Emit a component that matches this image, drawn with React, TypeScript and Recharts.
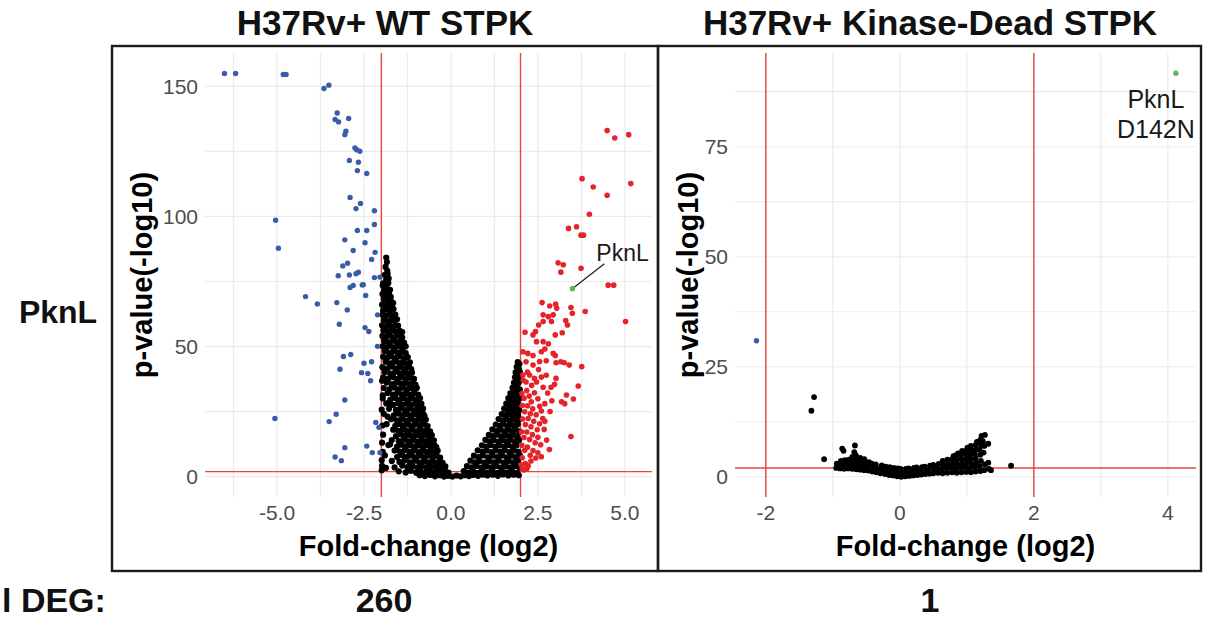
import React from 'react';
import { ScatterChart, Scatter, XAxis, YAxis, CartesianGrid, ReferenceLine, Label } from 'recharts';

const FONT = '"Liberation Sans", Arial, Helvetica, sans-serif';

// ---- H37Rv+ WT STPK ----
const wtXTicks = [-5, -2.5, 0, 2.5, 5];
const wtYTicks = [0, 50, 100, 150];
const wtXGrid = [-6.25, -5, -3.75, -2.5, -1.25, 0, 1.25, 2.5, 3.75, 5];
const wtYGrid = [0, 25, 50, 75, 100, 125, 150];

const wtBlue = [
  [-6.51, 154.9], [-6.19, 154.9], [-4.82, 154.5], [-4.74, 154.5], [-3.65, 149.1], [-3.51, 150.4],
  [-3.27, 139.7], [-3.33, 137.2], [-3.23, 136.3], [-2.94, 137.6], [-3.02, 132.7], [-3.05, 131.4],
  [-2.76, 126.3], [-2.71, 125.6], [-2.62, 125], [-2.92, 121.5], [-2.66, 120.8], [-2.69, 117.6],
  [-2.42, 116.5], [-2.9, 107.3], [-2.6, 105], [-2.73, 103], [-2.2, 102.2], [-5.04, 98.5],
  [-2.2, 96.9], [-2.69, 94.6], [-2.42, 94.6], [-3.05, 91], [-2.47, 89.9], [-4.96, 87.8],
  [-2.81, 86.9], [-2.18, 86.2], [-2.28, 83.5], [-3.11, 81], [-2.97, 82], [-3.24, 77.2],
  [-2.92, 77.5], [-2.73, 78], [-2.66, 78.6], [-2.55, 73.7], [-2.2, 76.5], [-2.04, 76.7],
  [-2.9, 72.7], [-2.81, 73.5], [-2.52, 73.8], [-4.18, 69.2], [-3.84, 66.4], [-3.28, 66.9],
  [-2.45, 69.6], [-2.98, 64.1], [-2.11, 62.2], [-3.21, 58.6], [-2.47, 57.3], [-2.36, 55.8],
  [-2.11, 50.1], [-3.09, 46.2], [-2.88, 47], [-3.19, 41.3], [-2.5, 43.6], [-2.28, 44.2],
  [-2.57, 40], [-2.39, 39.7], [-2.31, 36.9], [-3.05, 29.5], [-5.06, 22.4], [-3.3, 24],
  [-3.5, 21.2], [-2.16, 20.9], [-2.07, 19], [-2.42, 11.8], [-3.05, 11.2], [-2.26, 9.3],
  [-2.04, 9.3], [-3.33, 7.6], [-3.15, 6.2],
];

const wtRed = [
  [4.49, 133], [4.71, 130.1], [5.11, 131.4], [3.77, 114.5], [4.09, 111.3], [5.17, 112.6],
  [4.49, 108.1], [3.98, 100.8], [3.38, 95.4], [3.61, 96], [3.74, 92.8], [3.81, 92.8],
  [3.08, 82.2], [3.23, 81.4], [3.16, 78.6], [3.74, 80.1], [4.52, 73.6], [4.68, 73.6],
  [5.02, 59.6], [3.86, 63.5], [3.45, 65], [3.49, 62.8], [2.62, 66.9], [2.84, 65.6],
  [3.01, 66.3], [3.04, 64.7], [2.65, 62.2], [2.8, 61.5], [2.94, 62.2], [2.13, 55.5],
  [2.36, 54.5], [2.43, 55.8], [2.52, 58.3], [2.65, 59.6], [2.89, 59.6], [3.0, 54.5],
  [3.2, 55.3], [3.35, 58.3], [3.3, 60], [2.65, 51.9], [2.8, 51.1], [2.46, 51.9],
  [2.07, 48], [2.21, 47.4], [2.36, 46.6], [2.6, 48], [2.94, 47.4], [3.0, 46.6],
  [2.16, 44.2], [2.36, 42.9], [2.74, 44.6], [3.02, 43.8], [3.16, 44.2], [3.26, 43.8],
  [3.4, 42.9], [3.76, 42.3], [2.07, 39.1], [2.26, 39.1], [2.4, 37.8], [2.16, 36.4],
  [2.46, 36.4], [2.65, 34.4], [2.98, 35.5], [3.02, 37.8], [2.88, 34.4], [3.66, 34.9],
  [3.32, 31.4], [3.52, 29.9], [3.18, 28.8], [3.27, 28.1], [2.64, 22.4], [3.45, 15.5],
  [2.83, 10.5], [2.6, 7.7], [2.05, 3.2], [2.74, 39],
  [2.04, 32], [2.1, 30.2], [2.18, 33.1], [2.25, 31], [2.31, 28.8], [2.4, 32.3], [2.5, 30],
  [2.55, 27.1], [2.05, 27.4], [2.12, 25], [2.2, 27.3], [2.28, 24.2], [2.35, 26.1], [2.45, 23.8],
  [2.6, 25.3], [2.7, 28.1], [2.06, 22.2], [2.14, 20.1], [2.22, 22.4], [2.3, 19.2], [2.38, 21.3],
  [2.48, 18.1], [2.55, 20.4], [2.03, 17.3], [2.1, 15.1], [2.18, 17.2], [2.26, 14.3], [2.34, 16.2],
  [2.42, 13.1], [2.5, 15.2], [2.58, 12.3], [2.04, 12.1], [2.12, 10.2], [2.2, 11.4], [2.28, 8.3],
  [2.36, 10.1], [2.44, 7.2], [2.05, 7.3], [2.14, 5.1], [2.22, 4.2], [2.3, 6.1], [2.1, 2.6],
  [2.18, 3.1], [2.02, 4.6], [2.68, 18.2], [2.75, 14.1], [2.5, 9.2], [2.08, 37.1], [2.2, 40.2],
  [2.32, 35.1], [2.52, 41.2], [2.6, 38.3], [2.78, 32.2], [2.85, 25.1], [2.7, 21.3], [2.9, 29.2],
  [2.55, 44.3], [2.7, 49.1],
];

const wtGreen = [[3.49, 72.2]];

const wtBlack = [
  // left arm
  [-1.86, 84.2], [-1.84, 82.5], [-1.88, 80.6], [-1.83, 79.1], [-1.9, 77.6], [-1.82, 77.9], [-1.95, 74.3],
  [-1.86, 75.8], [-1.79, 76.2], [-1.96, 73.5], [-1.88, 73.1], [-1.8, 74.4], [-1.92, 71.6], [-1.83, 72.3],
  [-1.75, 71.8], [-1.97, 70.2], [-1.87, 69.6], [-1.78, 70.4], [-1.73, 69.1], [-1.93, 68.3], [-1.84, 67.6],
  [-1.74, 68.2], [-1.7, 66.9], [-1.98, 66.1], [-1.88, 65.7], [-1.79, 66.4], [-1.7, 65.2], [-1.66, 66.7],
  [-1.95, 63.8], [-1.85, 64.3], [-1.75, 63.6], [-1.65, 64.4], [-1.97, 62.2], [-1.88, 61.7], [-1.78, 62.4],
  [-1.68, 61.6], [-1.6, 62.3], [-1.93, 60.1], [-1.82, 59.6], [-1.72, 60.4], [-1.62, 59.8], [-1.55, 60.5],
  [-1.98, 58.2], [-1.87, 57.7], [-1.76, 58.4], [-1.65, 57.6], [-1.52, 58.1], [-1.94, 56.3], [-1.83, 55.7],
  [-1.72, 56.4], [-1.6, 55.8], [-1.48, 56.2], [-1.4, 55.6], [-1.97, 54.1], [-1.86, 53.7], [-1.75, 54.3],
  [-1.63, 53.6], [-1.52, 54.2], [-1.4, 53.5], [-1.92, 52.2], [-1.8, 51.6], [-1.68, 52.3], [-1.56, 51.7],
  [-1.45, 52.1], [-1.35, 51.5], [-1.96, 50.1], [-1.85, 49.7], [-1.73, 50.3], [-1.61, 49.6], [-1.49, 50.2],
  [-1.38, 49.5], [-1.3, 50.1], [-1.9, 48.2], [-1.78, 47.6], [-1.66, 48.3], [-1.54, 47.7], [-1.42, 48.1],
  [-1.3, 47.5], [-1.95, 46.1], [-1.83, 45.7], [-1.71, 46.3], [-1.58, 45.6], [-1.46, 46.2], [-1.34, 45.5],
  [-1.24, 46], [-1.88, 44.2], [-1.76, 43.6], [-1.63, 44.3], [-1.5, 43.7], [-1.38, 44.1], [-1.27, 43.5],
  [-1.18, 44], [-1.97, 42.1], [-1.82, 41.7], [-1.68, 42.3], [-1.55, 41.6], [-1.43, 42.2], [-1.31, 41.5],
  [-1.2, 42.1], [-1.14, 41.4], [-1.9, 40.2], [-1.74, 39.6], [-1.6, 40.3], [-1.47, 39.7], [-1.35, 40.1],
  [-1.24, 39.5], [-1.12, 40], [-1.95, 38.1], [-1.8, 37.7], [-1.66, 38.3], [-1.52, 37.6], [-1.4, 38.2],
  [-1.28, 37.5], [-1.17, 38.1], [-1.06, 37.6], [-1.85, 36.2], [-1.7, 35.6], [-1.57, 36.3], [-1.44, 35.7],
  [-1.32, 36.1], [-1.2, 35.5], [-1.1, 36.1], [-1.02, 35.4], [-1.93, 34.1], [-1.76, 33.7], [-1.62, 34.3],
  [-1.5, 33.6], [-1.37, 34.2], [-1.25, 33.5], [-1.13, 34.1], [-1.03, 33.6], [-0.98, 34.2], [-1.82, 32.2],
  [-1.67, 31.6], [-1.54, 32.3], [-1.42, 31.7], [-1.3, 32.1], [-1.18, 31.5], [-1.07, 32.1], [-0.94, 31.6],
  [-1.96, 30.1], [-1.74, 29.7], [-1.6, 30.3], [-1.47, 29.6], [-1.35, 30.2], [-1.22, 29.5], [-1.1, 30.1],
  [-0.99, 29.6], [-0.89, 30.2], [-1.86, 28.2], [-1.66, 27.6], [-1.52, 28.3], [-1.4, 27.7], [-1.27, 28.1],
  [-1.15, 27.5], [-1.03, 28.1], [-0.93, 27.6], [-0.85, 28.1], [-1.78, 26.1], [-1.58, 25.7], [-1.45, 26.3],
  [-1.32, 25.6], [-1.2, 26.2], [-1.08, 25.5], [-0.97, 26.1], [-0.87, 25.6], [-0.8, 26.2], [-1.93, 24.2],
  [-1.64, 23.6], [-1.5, 24.3], [-1.37, 23.7], [-1.25, 24.1], [-1.12, 23.5], [-1.0, 24.1], [-0.9, 23.6],
  [-0.8, 24.2], [-0.76, 23.4], [-1.72, 22.1], [-1.56, 21.7], [-1.42, 22.3], [-1.29, 21.6], [-1.17, 22.2],
  [-1.05, 21.5], [-0.94, 22.1], [-0.83, 21.6], [-0.72, 22], [-1.85, 20.2], [-1.6, 19.6], [-1.47, 20.3],
  [-1.34, 19.7], [-1.22, 20.1], [-1.1, 19.5], [-0.98, 20.1], [-0.87, 19.6], [-0.76, 20.2], [-0.67, 19.5],
  [-1.66, 18.1], [-1.52, 17.7], [-1.39, 18.3], [-1.27, 17.6], [-1.14, 18.2], [-1.02, 17.5], [-0.9, 18.1],
  [-0.79, 17.6], [-0.69, 18.2], [-0.6, 17.5], [-1.95, 16.2], [-1.58, 15.6], [-1.44, 16.3], [-1.31, 15.7],
  [-1.18, 16.1], [-1.06, 15.5], [-0.94, 16.1], [-0.83, 15.6], [-0.72, 16.2], [-0.62, 15.5], [-0.55, 16],
  [-1.7, 14.1], [-1.5, 13.7], [-1.36, 14.3], [-1.23, 13.6], [-1.1, 14.2], [-0.98, 13.5], [-0.86, 14.1],
  [-0.75, 13.6], [-0.64, 14.2], [-0.55, 13.5], [-0.49, 14], [-1.8, 12.2], [-1.55, 11.6], [-1.41, 12.3],
  [-1.28, 11.7], [-1.15, 12.1], [-1.02, 11.5], [-0.9, 12.1], [-0.78, 11.6], [-0.67, 12.2], [-0.57, 11.5],
  [-0.47, 12.1], [-0.42, 11.4], [-1.62, 10.1], [-1.47, 9.7], [-1.33, 10.3], [-1.2, 9.6], [-1.07, 10.2],
  [-0.94, 9.5], [-0.82, 10.1], [-0.7, 9.6], [-0.59, 10.2], [-0.48, 9.5], [-0.38, 10], [-1.9, 8.2],
  [-1.55, 7.6], [-1.4, 8.3], [-1.26, 7.7], [-1.12, 8.1], [-0.99, 7.5], [-0.86, 8.1], [-0.74, 7.6],
  [-0.62, 8.2], [-0.51, 7.5], [-0.41, 8.1], [-0.31, 7.4], [-1.7, 6.1], [-1.48, 5.7], [-1.33, 6.3],
  [-1.18, 5.6], [-1.04, 6.2], [-0.91, 5.5], [-0.78, 6.1], [-0.66, 5.6], [-0.54, 6.2], [-0.43, 5.5],
  [-0.32, 6.1], [-0.24, 5.4], [-1.98, 4.2], [-1.62, 3.6], [-1.4, 4.3], [-1.25, 3.7], [-1.1, 4.1],
  [-0.96, 3.5], [-0.83, 4.1], [-0.7, 3.6], [-0.58, 4.2], [-0.46, 3.5], [-0.35, 4.1], [-0.25, 3.6],
  [-0.16, 4], [-1.5, 2.1], [-1.3, 1.7], [-1.15, 2.3], [-1.0, 1.6], [-0.87, 2.2], [-0.74, 1.5],
  [-0.61, 2.1], [-0.49, 1.6], [-0.37, 2.2], [-0.26, 1.5], [-0.16, 2.1], [-0.07, 1.6],
  // floor
  [-0.9, 0.6], [-0.75, 0.3], [-0.6, 0.7], [-0.46, 0.2], [-0.32, 0.6], [-0.2, 0.1], [-0.08, 0.4],
  [0.04, 0.1], [0.16, 0.5], [0.28, 0.2], [0.4, 0.6], [0.52, 0.3], [0.64, 0.7], [0.78, 0.4], [0.92, 0.8],
  // scattered near the left cutoff
  [-1.98, 36.9], [-1.96, 31.3], [-1.99, 25.8], [-1.97, 19.7], [-1.98, 13.1], [-1.96, 9.6], [-1.99, 6.4],
  [-1.99, 2.5], [-1.87, 3.4], [-1.75, 12.5], [-1.82, 23.1], [-1.78, 28.4],
  // right arm
  [1.92, 44.1], [1.97, 43.4], [1.89, 42.2], [1.95, 41.6], [1.86, 40.1], [1.93, 39.6], [1.98, 40.3],
  [1.84, 38.2], [1.9, 37.6], [1.97, 38.1], [1.81, 36.1], [1.88, 35.6], [1.95, 36.2], [1.77, 34.2],
  [1.84, 33.6], [1.91, 34.1], [1.98, 33.5], [1.71, 32.1], [1.79, 31.6], [1.87, 32.2], [1.94, 31.5],
  [1.65, 30.2], [1.73, 29.6], [1.81, 30.1], [1.89, 29.5], [1.97, 30.1], [1.59, 28.1], [1.68, 27.6],
  [1.77, 28.2], [1.85, 27.5], [1.93, 28.1], [1.53, 26.2], [1.62, 25.6], [1.71, 26.1], [1.8, 25.5],
  [1.88, 26.1], [1.96, 25.6], [1.46, 24.1], [1.56, 23.6], [1.66, 24.2], [1.75, 23.5], [1.84, 24.1],
  [1.93, 23.6], [1.37, 22.2], [1.48, 21.6], [1.59, 22.1], [1.69, 21.5], [1.79, 22.1], [1.88, 21.6],
  [1.97, 22.2], [1.29, 20.1], [1.4, 19.6], [1.51, 20.2], [1.62, 19.5], [1.72, 20.1], [1.82, 19.6],
  [1.92, 20.2], [1.19, 18.2], [1.31, 17.6], [1.43, 18.1], [1.54, 17.5], [1.65, 18.1], [1.76, 17.6],
  [1.86, 18.2], [1.96, 17.5], [1.09, 16.1], [1.21, 15.6], [1.33, 16.2], [1.45, 15.5], [1.57, 16.1],
  [1.68, 15.6], [1.79, 16.2], [1.9, 15.5], [0.99, 14.2], [1.11, 13.6], [1.23, 14.1], [1.36, 13.5],
  [1.48, 14.1], [1.6, 13.6], [1.72, 14.2], [1.84, 13.5], [1.96, 14.1], [0.89, 12.1], [1.01, 11.6],
  [1.14, 12.2], [1.27, 11.5], [1.4, 12.1], [1.53, 11.6], [1.65, 12.2], [1.77, 11.5], [1.89, 12.1],
  [0.77, 10.2], [0.9, 9.6], [1.03, 10.1], [1.16, 9.5], [1.29, 10.1], [1.42, 9.6], [1.55, 10.2],
  [1.68, 9.5], [1.81, 10.1], [1.94, 9.6], [0.66, 8.1], [0.79, 7.6], [0.92, 8.2], [1.06, 7.5],
  [1.2, 8.1], [1.34, 7.6], [1.47, 8.2], [1.6, 7.5], [1.73, 8.1], [1.86, 7.6], [1.98, 8.2],
  [0.56, 6.2], [0.69, 5.6], [0.82, 6.1], [0.96, 5.5], [1.1, 6.1], [1.24, 5.6], [1.38, 6.2],
  [1.52, 5.5], [1.66, 6.1], [1.8, 5.6], [1.93, 6.2], [0.46, 4.1], [0.6, 3.6], [0.74, 4.2],
  [0.88, 3.5], [1.02, 4.1], [1.16, 3.6], [1.3, 4.2], [1.44, 3.5], [1.58, 4.1], [1.72, 3.6],
  [1.86, 4.2], [1.97, 3.5], [0.37, 2.2], [0.5, 1.6], [0.64, 2.1], [0.78, 1.5], [0.92, 2.1],
  [1.06, 1.6], [1.2, 2.2], [1.34, 1.5], [1.48, 2.1], [1.62, 1.6], [1.76, 2.2], [1.9, 1.5],
  [1.05, 0.5], [1.2, 0.8], [1.35, 0.4], [1.5, 0.9], [1.65, 0.5], [1.8, 0.8], [1.95, 0.6],
];

// ---- H37Rv+ Kinase-Dead STPK ----
const kdXTicks = [-2, 0, 2, 4];
const kdYTicks = [0, 25, 50, 75];
const kdXGrid = [-2, -1, 0, 1, 2, 3, 4];
const kdYGrid = [0, 12.5, 25, 37.5, 50, 62.5, 75, 87.5];

const kdBlue = [[-2.14, 30.9]];
const kdGreen = [[4.12, 91.7]];

const kdBlack = [
  [-1.28, 18.1], [-1.32, 15], [-1.13, 4], [-0.86, 6.4], [-0.84, 5.9], [-0.67, 7.1], [-0.68, 5.6], [-0.66, 4.9],
  // left cluster
  [-0.95, 2.0], [-0.94, 3.0], [-0.89, 1.9], [-0.9, 2.9], [-0.88, 3.6], [-0.83, 1.8], [-0.84, 2.8], [-0.82, 3.8],
  [-0.77, 1.9], [-0.78, 2.9], [-0.76, 3.9], [-0.71, 1.8], [-0.72, 2.8], [-0.7, 3.8], [-0.71, 4.5],
  [-0.65, 1.7], [-0.66, 2.7], [-0.64, 3.7], [-0.65, 4.6], [-0.59, 1.6], [-0.6, 2.6], [-0.58, 3.6],
  [-0.59, 4.3], [-0.53, 1.5], [-0.54, 2.5], [-0.52, 3.5], [-0.53, 4.0], [-0.47, 1.4], [-0.48, 2.4],
  [-0.46, 3.3],
  // floor
  [-0.41, 1.2], [-0.4, 2.1], [-0.42, 3.0], [-0.35, 1.0], [-0.34, 1.9], [-0.36, 2.8], [-0.29, 0.8],
  [-0.28, 1.7], [-0.27, 2.6], [-0.22, 0.6], [-0.23, 1.5], [-0.21, 2.3], [-0.16, 0.4], [-0.17, 1.3],
  [-0.15, 2.2], [-0.1, 0.3], [-0.11, 1.2], [-0.09, 2.0], [-0.04, 0.1], [-0.05, 1.0], [-0.03, 1.9],
  [0.02, 0.0], [0.03, 0.9], [0.01, 1.8], [0.08, 0.1], [0.07, 1.0], [0.09, 1.8], [0.14, 0.2],
  [0.15, 1.0], [0.13, 1.9], [0.2, 0.3], [0.19, 1.1], [0.21, 2.0], [0.26, 0.4], [0.27, 1.2],
  [0.25, 2.1], [0.32, 0.5], [0.31, 1.3], [0.33, 2.2], [0.38, 0.6], [0.39, 1.4], [0.37, 2.3],
  [0.44, 0.7], [0.43, 1.5], [0.45, 2.5],
  // right wedge
  [0.5, 0.8], [0.51, 1.8], [0.5, 2.7], [0.57, 0.9], [0.56, 1.9], [0.58, 2.9], [0.64, 0.8],
  [0.63, 1.8], [0.65, 2.8], [0.64, 3.6], [0.71, 0.9], [0.7, 1.9], [0.72, 2.9], [0.71, 3.9],
  [0.78, 1.0], [0.77, 2.0], [0.79, 3.0], [0.78, 4.0], [0.8, 4.7], [0.85, 0.9], [0.84, 1.9],
  [0.86, 2.9], [0.85, 3.9], [0.84, 4.9], [0.87, 5.3], [0.92, 1.0], [0.91, 2.0], [0.93, 3.0],
  [0.92, 4.0], [0.91, 5.0], [0.93, 5.9], [0.99, 1.1], [0.98, 2.1], [1.0, 3.1], [0.99, 4.1],
  [0.98, 5.1], [1.0, 6.1], [1.01, 6.6], [1.06, 1.0], [1.05, 2.0], [1.07, 3.0], [1.06, 4.0],
  [1.05, 5.0], [1.07, 6.0], [1.06, 7.0], [1.13, 1.2], [1.12, 2.2], [1.14, 3.2], [1.13, 4.2],
  [1.12, 5.2], [1.14, 6.2], [1.13, 7.2], [1.15, 7.9], [1.2, 1.3], [1.19, 2.4], [1.21, 3.6],
  [1.2, 5.0], [1.19, 6.3], [1.21, 7.4], [1.2, 8.4], [1.22, 9.3], [1.26, 1.5], [1.27, 2.8],
  [1.25, 5.5], [1.26, 7.0], [1.24, 8.1], [1.27, 9.5], [1.32, 7.5], [1.32, 3.2], [1.33, 1.8],
  [1.36, 1.5], [1.66, 2.5],
];

const toPts = (a: number[][]) => a.map(([x, y]) => ({ x, y }));

const dot = (fill: string, r = 2.7) => (p: any) => <circle cx={p.cx} cy={p.cy} r={r} fill={fill} />;

const wtPknL = (p: any) => (
  <g>
    <line x1={p.cx} y1={p.cy} x2={p.cx + 32} y2={p.cy - 25} stroke="#1a1a1a" strokeWidth={1.2} />
    <circle cx={p.cx} cy={p.cy} r={2.7} fill="#5cb85c" />
    <text x={p.cx + 24} y={p.cy - 28} fontSize={23} fontFamily={FONT} fill="#1a1a1a">PknL</text>
  </g>
);

const kdPknL = (p: any) => (
  <g>
    <circle cx={p.cx} cy={p.cy} r={2.7} fill="#5cb85c" />
    <text x={p.cx - 20} y={p.cy + 35} fontSize={25} fontFamily={FONT} fill="#1a1a1a" textAnchor="middle">PknL</text>
    <text x={p.cx - 20} y={p.cy + 65} fontSize={25} fontFamily={FONT} fill="#1a1a1a" textAnchor="middle">D142N</text>
  </g>
);

const RED_LINE = '#e8433e';
const tickStyle = { fill: '#4d4d4d', fontSize: 21, fontFamily: FONT };

function Volcano(props: any) {
  const { width, yAxisWidth, marginRight, xDomain, yDomain, xTicks, yTicks, xGrid, yGrid, fmt, children } = props;
  return (
    <ScatterChart width={width} height={526} margin={{ top: 7, right: marginRight, bottom: 0, left: 0 }}>
      <CartesianGrid stroke="#ebebeb" strokeWidth={1.2} horizontalValues={yGrid} verticalValues={xGrid} />
      <XAxis
        type="number"
        dataKey="x"
        domain={xDomain}
        ticks={xTicks}
        allowDataOverflow
        interval={0}
        tickLine={false}
        axisLine={false}
        tickSize={6}
        tickMargin={2}
        height={75}
        tick={tickStyle}
        tickFormatter={fmt}
      >
        <Label value="Fold-change (log2)" position="insideBottom" offset={16} fill="#000" fontSize={29} fontWeight="bold" fontFamily={FONT} />
      </XAxis>
      <YAxis
        type="number"
        dataKey="y"
        domain={yDomain}
        ticks={yTicks}
        allowDataOverflow
        interval={0}
        tickLine={false}
        axisLine={false}
        tickSize={5}
        tickMargin={2}
        width={yAxisWidth}
        tick={tickStyle}
      >
        <Label value="p-value(-log10)" angle={-90} position="insideLeft" offset={30} fill="#000" fontSize={29} fontWeight="bold" fontFamily={FONT} style={{ textAnchor: 'middle' }} />
      </YAxis>
      {children}
      <ReferenceLine x={-2} stroke={RED_LINE} strokeWidth={1.4} />
      <ReferenceLine x={2} stroke={RED_LINE} strokeWidth={1.4} />
      <ReferenceLine y={2} stroke={RED_LINE} strokeWidth={1.4} />
    </ScatterChart>
  );
}

export default function App() {
  return (
    <div style={{ position: 'absolute', left: 0, top: 0, width: 1215, height: 621, background: '#fff', overflow: 'hidden', fontFamily: FONT }}>
      <div style={{ position: 'absolute', left: 112, top: 46 }}>
        <Volcano
          width={546}
          yAxisWidth={93}
          marginRight={6}
          xDomain={[-7.07, 5.78]}
          yDomain={[-7.75, 162.75]}
          xTicks={wtXTicks}
          yTicks={wtYTicks}
          xGrid={wtXGrid}
          yGrid={wtYGrid}
          fmt={(v: number) => v.toFixed(1)}
        >
          <Scatter data={toPts(wtBlack)} shape={dot('#000', 3.1)} isAnimationActive={false} />
          <Scatter data={toPts(wtBlue)} shape={dot('#3a5ba8')} isAnimationActive={false} />
          <Scatter data={toPts(wtRed)} shape={dot('#e3242b', 2.8)} isAnimationActive={false} />
          <Scatter data={toPts(wtGreen)} shape={wtPknL} isAnimationActive={false} />
        </Volcano>
      </div>
      <div style={{ position: 'absolute', left: 658, top: 46 }}>
        <Volcano
          width={543}
          yAxisWidth={77}
          marginRight={5}
          xDomain={[-2.46, 4.42]}
          yDomain={[-4.6, 96.3]}
          xTicks={kdXTicks}
          yTicks={kdYTicks}
          xGrid={kdXGrid}
          yGrid={kdYGrid}
          fmt={(v: number) => String(v)}
        >
          <Scatter data={toPts(kdBlack)} shape={dot('#000', 2.9)} isAnimationActive={false} />
          <Scatter data={toPts(kdBlue)} shape={dot('#3a5ba8')} isAnimationActive={false} />
          <Scatter data={toPts(kdGreen)} shape={kdPknL} isAnimationActive={false} />
        </Volcano>
      </div>
      <svg width={1215} height={621} style={{ position: 'absolute', left: 0, top: 0, pointerEvents: 'none' }}>
        <rect x={112} y={46} width={546} height={525} fill="none" stroke="#1a1a1a" strokeWidth={2.4} />
        <rect x={658} y={46} width={543} height={525} fill="none" stroke="#1a1a1a" strokeWidth={2.4} />
        <g fontFamily={FONT} fontWeight="bold" fill="#111">
          <text x={385} y={35} fontSize={35} textAnchor="middle">H37Rv+ WT STPK</text>
          <text x={930} y={35} fontSize={35} textAnchor="middle">H37Rv+ Kinase-Dead STPK</text>
          <text x={58} y={323} fontSize={32} textAnchor="middle">PknL</text>
          <text x={2} y={612} fontSize={34}>l DEG:</text>
          <text x={384} y={612} fontSize={34} textAnchor="middle">260</text>
          <text x={930} y={612} fontSize={34} textAnchor="middle">1</text>
        </g>
      </svg>
    </div>
  );
}
